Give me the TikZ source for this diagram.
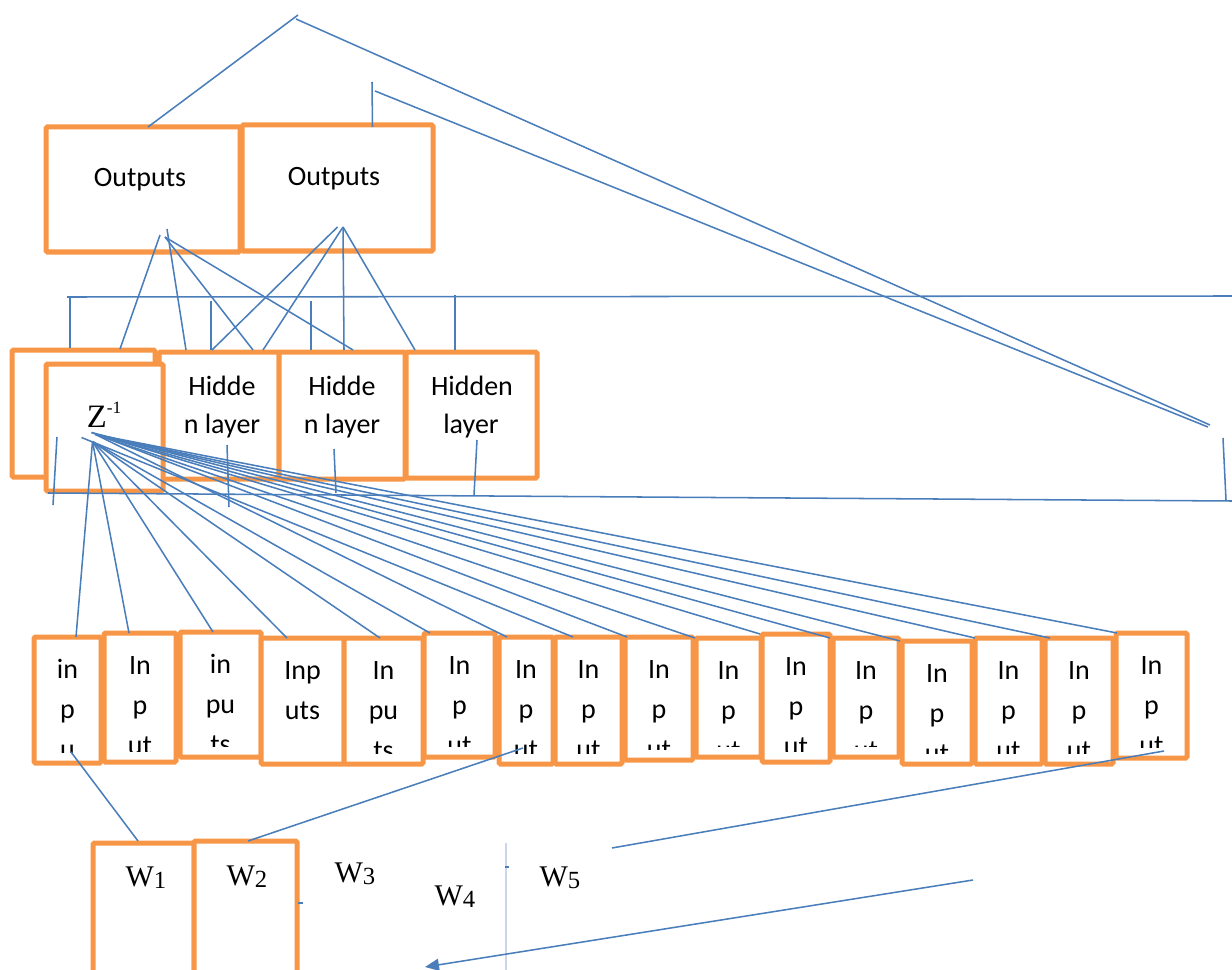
\documentclass[tikz,border=0pt]{standalone}
\usepackage{fontspec}
\setmainfont{Carlito}
\newfontfamily\tnr{Liberation Serif}
\usetikzlibrary{fit,calc,arrows.meta}
\definecolor{org}{HTML}{F79646}
\definecolor{lnb}{HTML}{4A7EBB}
\definecolor{faint}{HTML}{CCD6E8}
\tikzset{
  obox/.style={draw=org, line width=3.75pt, fill=white, inner sep=0pt, outer sep=0pt, rounded corners=1pt},
  ln/.style={draw=lnb, line width=1.15pt},
  btext/.style={font=\fontsize{21}{25}\selectfont, anchor=base, inner sep=0pt},
  wlab/.style={font=\tnr\fontsize{22.5}{25}\selectfont, anchor=base, inner sep=0pt},
}
\newcommand\inbox[8]{%
  \node[obox, fit={(#2,#3)(#4,#5)}] (#1) {};
  \begin{scope}
    \clip ($(#1.north west)+(3,3)$) rectangle ($(#1.south east)+(-3,-11)$);
    \node[btext] (#1a) at ($(#1.north)+(0,41)$) {#6};
    \node[btext] (#1b) at ($(#1.north)+(0,81)$) {#7};
    \node[btext] (#1c) at ($(#1.north)+(0,121)$) {#8};
  \end{scope}}
\newcommand\wsub[1]{\raisebox{-1.5pt}{\fontsize{18.5}{18.5}\selectfont #1}}
\begin{document}
\begin{tikzpicture}[x=0.75pt,y=-0.75pt]
\useasboundingbox (0,0) rectangle (1232,970);
\clip (0,0) rectangle (1232,970);

% ---------- output boxes
\node[obox, fit={(46,127)(240,252)}] (o1) {};
\node[obox, fit={(242,125)(433,251)}] (o2) {};
\node[btext] (o1t) at (140,187) {Outputs};
\node[btext] (o2t) at (334,186) {Outputs};

% ---------- hidden row
\node[obox, fit={(12,350)(155,477)}] (lb) {};
\node[obox, fit={(159,352)(279,479)}] (h1) {};
\node[obox, fit={(279,352)(405,479)}] (h2) {};
\node[obox, fit={(406,352)(537,478)}] (h3) {};
\node[obox, fit={(46,364)(163,491)}] (zb) {};
\node[btext] (h1a) at (222,395) {Hidde};
\node[btext] (h1b) at (222,433) {n layer};
\node[btext] (h2a) at (342,395) {Hidde};
\node[btext] (h2b) at (342,433) {n layer};
\node[btext] (h3a) at (472,395) {Hidden};
\node[btext] (h3b) at (471,433) {layer};
\node[anchor=base, inner sep=0pt, font=\tnr\fontsize{24.5}{26}\selectfont] (zt) at (104,427)
  {Z\raisebox{10.5pt}{\fontsize{13}{13}\selectfont -1}};

% ---------- input boxes
\inbox{in1}{34}{637}{101}{763}{in}{p}{u}
\inbox{in2}{104}{633}{176}{762}{In}{p}{ut}
\inbox{in3}{180}{632}{261}{757}{in}{pu}{ts}
\inbox{in4}{261}{638}{344}{764}{Inp}{uts}{}
\inbox{in5}{344}{638}{423}{764}{In}{pu}{ts}
\inbox{in6}{424}{633}{495}{757}{In}{p}{ut}
\inbox{in7}{499}{637}{553}{764}{In}{p}{ut}
\inbox{in8}{555}{637}{622}{764}{In}{p}{ut}
\inbox{in9}{625}{637}{693}{760}{In}{p}{ut}
\inbox{in10}{696}{638}{761}{757}{In}{p}{ut}
\inbox{in11}{762}{634}{830}{762}{In}{p}{ut}
\inbox{in12}{833}{638}{899}{757}{In}{p}{ut}
\inbox{in13}{902}{641}{972}{764}{In}{p}{ut}
\inbox{in14}{975}{638}{1042}{764}{In}{p}{ut}
\inbox{in15}{1045}{638}{1113}{764}{In}{p}{ut}
\inbox{in16}{1116}{633}{1187}{758}{In}{p}{ut}

% ---------- weight boxes
\node[obox, fit={(93,843)(194,990)}] (w1b) {};
\node[obox, fit={(194,841)(297,990)}] (w2b) {};
\node[wlab] (w1) at (146,886) {W\wsub{1}};
\node[wlab] (w2) at (247,885) {W\wsub{2}};
\node[wlab] (w3) at (355,882) {W\wsub{3}};
\node[wlab] (w4) at (455,905) {W\wsub{4}};
\node[wlab] (w5) at (560,886) {W\wsub{5}};
\draw[faint, line width=0.8pt] (506,843) -- (506,975);

% ---------- free-end coordinates
\coordinate (apexA) at (298,15);
\coordinate (apexB) at (296,19);
\coordinate (convA) at (1210,425);
\coordinate (convB) at (1208,427);
\coordinate (o2tick) at (372,82);
\coordinate (o2knee) at (375,91);
\coordinate (busTl) at (67,297);
\coordinate (busTr) at (1232,296);
\coordinate (busBl) at (48,493);
\coordinate (busBr) at (1232,501);
\coordinate (rvT) at (1223,438);
\coordinate (rvB) at (1226,500);
\coordinate (w5e) at (612,848);
\coordinate (arrS) at (973,880);
\coordinate (arrE) at (425,967);

% ---------- top connectors
\draw[ln] ($(o1.north)+(5,0)$) -- (apexA);
\draw[ln] (apexB) -- (convA);
\draw[ln] ($(o2.north)+(35,2)$) -- (o2tick);
\draw[ln] (o2knee) -- (convB);

% ---------- buses
\draw[ln] (busTl) -- (busTr);
\draw[ln] (busBl) -- (busBr);
\draw[ln] (rvT) -- (rvB);
\draw[ln] ($(lb.north west)+(58,-53)$) -- ($(lb.north west)+(58,-2)$);
\draw[ln] ($(h1.north west)+(52,-51)$) -- ($(h1.north west)+(52,-2)$);
\draw[ln] ($(h2.north west)+(32,-51)$) -- ($(h2.north west)+(32,-2)$);
\draw[ln] ($(h3.north west)+(49,-57)$) -- ($(h3.north west)+(49,-2)$);
\draw[ln] ($(zb.south west)+(11,-54)$) -- ($(zb.south west)+(7,14)$);
\draw[ln] ($(h1.south west)+(68,-34)$) -- ($(h1.south west)+(70,28)$);
\draw[ln] ($(h2.south west)+(55,-30)$) -- ($(h2.south west)+(57,14)$);
\draw[ln] ($(h3.south west)+(71,-38)$) -- ($(h3.south west)+(68,17)$);

% ---------- outputs to hidden
\coordinate (oa) at ($(o1.south)+(17,-17)$);
\coordinate (ob) at ($(o1.south)+(24,-23)$);
\coordinate (oc) at ($(o1.south)+(22,-15)$);
\coordinate (od) at ($(o2.south)+(0,-24)$);
\coordinate (oe) at ($(o2.south)+(5.5,-24)$);
\draw[ln] (oa) -- ($(lb.north west)+(108,-1)$);
\draw[ln] (ob) -- ($(h1.north west)+(27,-2)$);
\draw[ln] (oc) -- ($(h1.north west)+(94,-2)$);
\draw[ln] (oc) -- ($(h2.north west)+(74,-2)$);
\draw[ln] (od) -- ($(h1.north west)+(53,-2)$);
\draw[ln] (oe) -- ($(h1.north west)+(104,-2)$);
\draw[ln] (oe) -- ($(h2.north west)+(65,-2)$);
\draw[ln] (oe) -- ($(h3.north west)+(9,-2)$);

% ---------- Z^-1 fan to inputs
\coordinate (zf) at ($(zb.center)+(-12,14)$);
\coordinate (zf2) at ($(zb.center)+(-13,5)$);
\coordinate (zf3) at ($(zb.center)+(-9,7)$);
\coordinate (zf4) at ($(zb.center)+(-4,8)$);
\coordinate (zf5) at ($(zb.center)+(0,9)$);
\coordinate (zf6) at ($(zb.center)+(-23,10)$);
\draw[ln] (zf) -- ($(in1.north west)+(42,0)$);
\draw[ln] (zf) -- ($(in2.north west)+(25,0)$);
\draw[ln] (zf) -- ($(in3.north west)+(33,0)$);
\draw[ln] (zf) -- ($(in4.north west)+(26,0)$);
\draw[ln] (zf) -- ($(in5.north west)+(36,0)$);
\draw[ln] (zf) -- ($(in6.north west)+(6,0)$);
\draw[ln] (zf3) -- ($(in7.north west)+(8,0)$);
\draw[ln] (zf6) -- ($(in8.north west)+(18,0)$);
\draw[ln] (zf2) -- ($(in9.north west)+(2,0)$);
\draw[ln] (zf3) -- ($(in10.north west)+(-1,0)$);
\draw[ln] (zf4) -- ($(in11.north west)+(-2,0)$);
\draw[ln] (zf5) -- ($(in12.north west)+(-3,0)$);
\draw[ln] (zf2) -- ($(in13.north west)+(-2,0)$);
\draw[ln] (zf4) -- ($(in14.north west)+(0,0)$);
\draw[ln] (zf5) -- ($(in15.north west)+(5,0)$);
\draw[ln] (zf3) -- ($(in16.north west)+(1,0)$);

% ---------- inputs to weights
\draw[ln] ($(in1.south)+(3.5,-11)$) -- ($(w1b.north west)+(45,-2)$);
\draw[ln] ($(in7.south)+(-3,-16)$) -- ($(w2b.north west)+(54,0)$);
\draw[ln] ($(in16.south)+(12.5,-7)$) -- (w5e);
\draw[ln, -{Triangle[length=10.5pt,width=9pt]}] (arrS) -- (arrE);
\draw[ln] ($(w2b.north east)+(1,62)$) -- ++(5,0);
\draw[ln] (505,867) -- (509,867);
\end{tikzpicture}
\end{document}
